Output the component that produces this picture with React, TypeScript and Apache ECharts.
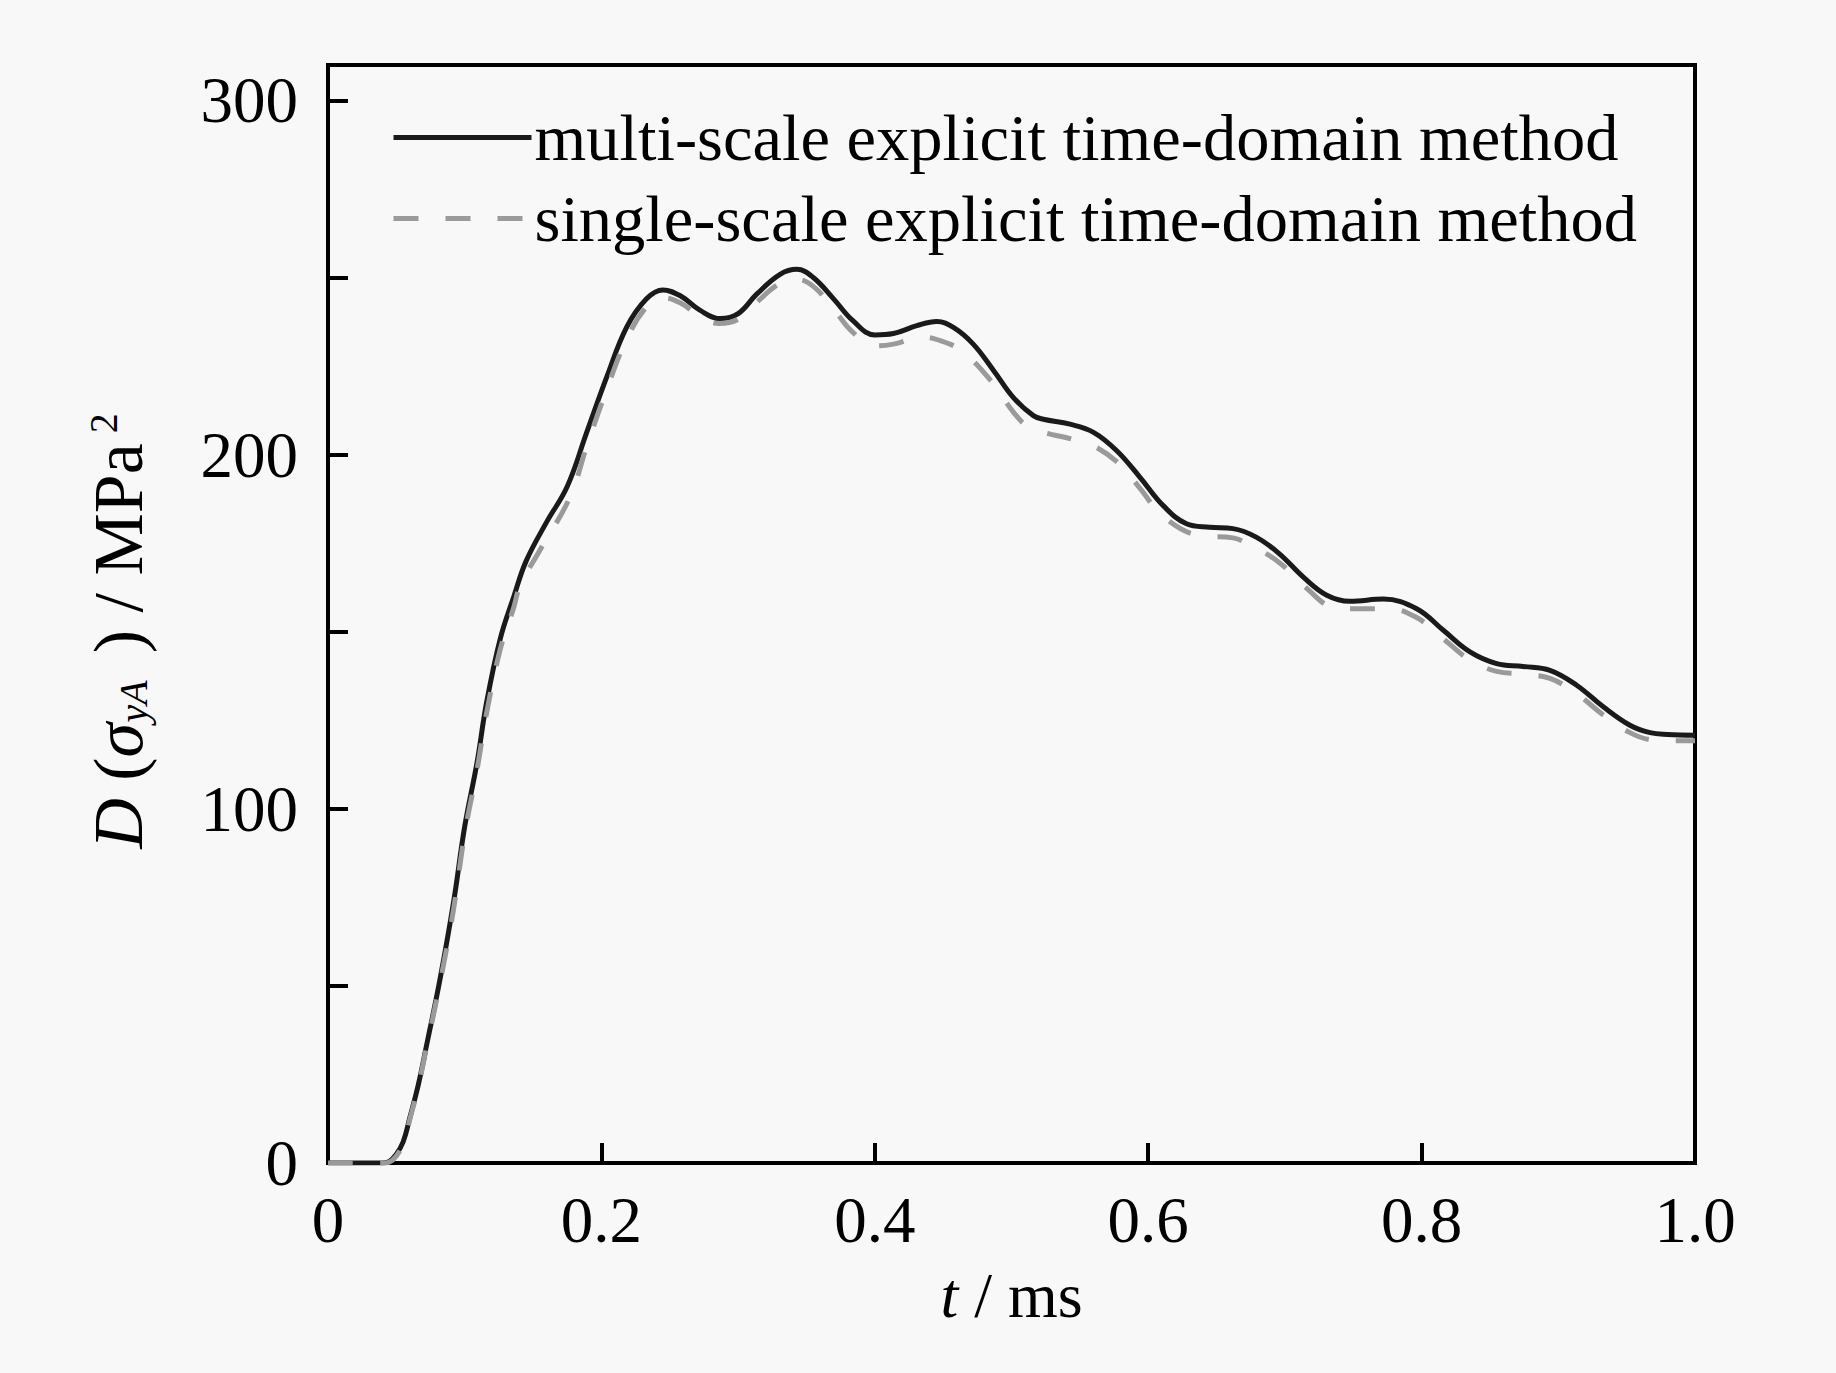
import React, { useEffect, useRef } from "react";
import * as echarts from "echarts";

const FONT = "'Liberation Serif', 'Times New Roman', serif";

const seriesNames = [
  "multi-scale explicit time-domain method",
  "single-scale explicit time-domain method",
];

const multiScale: [number, number][] = [
  [0, 0], [0.04, 0], [0.045, 0.5], [0.05, 2.5], [0.055, 6], [0.06, 13], [0.066, 22],
  [0.072, 33], [0.082, 52], [0.092, 74], [0.1, 95], [0.109, 113], [0.116, 130],
  [0.126, 148], [0.136, 160], [0.145, 170], [0.16, 181], [0.175, 191], [0.189, 206],
  [0.204, 222], [0.2185, 236], [0.233, 244], [0.245, 246.5], [0.258, 244.8],
  [0.272, 240.8], [0.287, 238.4], [0.3, 239.8], [0.3136, 245.3], [0.3307, 250.9], [0.343, 252.3],
  [0.355, 250], [0.37, 243.9], [0.384, 237.8], [0.4, 233.8], [0.4136, 234.2],
  [0.4307, 236.4], [0.4453, 237.6], [0.4575, 235.9], [0.472, 231.2], [0.487, 223.7],
  [0.5014, 216.1], [0.516, 211], [0.5233, 210], [0.5428, 208.6], [0.56, 206.3],
  [0.577, 201.1], [0.594, 193.6], [0.611, 185.6], [0.628, 180.5], [0.645, 179.5],
  [0.662, 179.1], [0.679, 176.7], [0.696, 172], [0.7135, 165.4], [0.7306, 160.3],
  [0.7476, 158.6], [0.772, 159.2], [0.7964, 156.5], [0.8159, 150.4], [0.8354, 144.3],
  [0.8549, 141], [0.8744, 140.2], [0.8939, 139.1], [0.9134, 134.9], [0.9329, 128.8],
  [0.9524, 123.6], [0.9671, 121.5], [0.98, 121], [1.0, 120.8],
];

const singleScale: [number, number][] = [
  [0, 0], [0.04, 0], [0.045, 0.3], [0.05, 2], [0.055, 5.5], [0.06, 12.5], [0.066, 21.5],
  [0.072, 32.5], [0.082, 51], [0.092, 72], [0.1, 93], [0.109, 111], [0.116, 127],
  [0.126, 145], [0.136, 157], [0.1405, 163], [0.155, 173], [0.177, 188], [0.189, 202],
  [0.204, 218.5], [0.2185, 232.6], [0.233, 241.7], [0.245, 244.3], [0.258, 242.8],
  [0.272, 239], [0.286, 237], [0.3, 238.2], [0.3136, 243], [0.33, 248.2], [0.342, 249.5],
  [0.355, 247.5], [0.37, 241], [0.384, 234.5], [0.4, 230.7], [0.4136, 231.2],
  [0.434, 233.1], [0.4453, 232.5], [0.4634, 229.3], [0.487, 219.9], [0.5014, 212],
  [0.5136, 207.7], [0.548, 204], [0.56, 202.5], [0.577, 198], [0.594, 190.5],
  [0.611, 182.5], [0.637, 177.2], [0.662, 176.5], [0.673, 174.8], [0.696, 169.5],
  [0.7135, 163], [0.74, 156.5], [0.776, 156.5], [0.7964, 154], [0.8159, 148],
  [0.8354, 142], [0.8549, 138.8], [0.8744, 138], [0.8939, 136.8], [0.9134, 132.5],
  [0.9329, 126.5], [0.9524, 121.5], [0.9671, 119.5], [0.98, 119.2], [1.0, 119.2],
];

const xTicks = { min: 0, max: 1.0, interval: 0.2 };
const yTicks = { min: 0, max: 310, interval: 50, labelEvery: 100 };

export default function App() {
  const ref = useRef<HTMLDivElement>(null);
  useEffect(() => {
    document.body.style.margin = "0";
    document.body.style.background = "#f8f8f8";
    const chart = echarts.init(ref.current!, null, { renderer: "svg" });
    chart.setOption({
      animation: false,
      backgroundColor: "#f8f8f8",
      grid: {
        left: 328, top: 65, right: 141, bottom: 210,
        show: true, borderColor: "#000", borderWidth: 4, backgroundColor: "transparent",
      },
      legend: {
        orient: "vertical",
        left: 386,
        top: 99,
        itemWidth: 138,
        itemHeight: 2,
        itemGap: 14,
        data: seriesNames,
        itemStyle: { opacity: 0, borderWidth: 0 },
        lineStyle: { width: 5 },
        textStyle: { fontFamily: FONT, fontSize: 66.5, lineHeight: 66, color: "#000", padding: [0, 0, 0, -2] },
      },
      xAxis: {
        type: "value",
        min: xTicks.min, max: xTicks.max, interval: xTicks.interval,
        axisLine: { show: true, lineStyle: { color: "#000", width: 4 } },
        axisTick: { show: true, inside: true, length: 20, lineStyle: { color: "#000", width: 4 } },
        splitLine: { show: false },
        axisLabel: {
          fontFamily: FONT, fontSize: 65, color: "#000", margin: 24,
          formatter: (v: number) => (v === 0 ? "0" : v.toFixed(1)),
        },
        name: "{i|t}{n| / ms}",
        nameLocation: "middle",
        nameGap: 100,
        nameTextStyle: {
          fontFamily: FONT, fontSize: 64, color: "#000",
          rich: {
            i: { fontFamily: FONT, fontSize: 64, fontStyle: "italic", color: "#000" },
            n: { fontFamily: FONT, fontSize: 64, color: "#000" },
          },
        },
      },
      yAxis: {
        type: "value",
        min: yTicks.min, max: yTicks.max, interval: yTicks.interval,
        axisLine: { show: true, lineStyle: { color: "#000", width: 4 } },
        axisTick: { show: true, inside: true, length: 20, lineStyle: { color: "#000", width: 4 } },
        splitLine: { show: false },
        axisLabel: {
          fontFamily: FONT, fontSize: 65, color: "#000", margin: 30,
          formatter: (v: number) => (v % yTicks.labelEvery === 0 ? String(v) : ""),
        },
        name: "{i|D}{n| (}{i|σ}{sub|yA }{n| ) / MPa}{sup| 2}",
        nameLocation: "middle",
        nameGap: 175,
        nameTextStyle: {
          fontFamily: FONT, fontSize: 70, color: "#000", padding: [0, 34, 0, 0],
          rich: {
            i: { fontFamily: FONT, fontSize: 70, fontStyle: "italic", lineHeight: 70, color: "#000" },
            n: { fontFamily: FONT, fontSize: 70, lineHeight: 70, color: "#000" },
            sub: { fontFamily: FONT, fontSize: 40, fontStyle: "italic", lineHeight: 30, verticalAlign: "bottom", color: "#000" },
            sup: { fontFamily: FONT, fontSize: 40, lineHeight: 16, verticalAlign: "top", color: "#000" },
          },
        },
      },
      series: [
        {
          name: seriesNames[0],
          type: "line",
          data: multiScale,
          symbol: "none",
          smooth: 0.4,
          lineStyle: { color: "#1a1a1a", width: 5 },
          itemStyle: { color: "#1a1a1a" },
        },
        {
          name: seriesNames[1],
          type: "line",
          data: singleScale,
          symbol: "none",
          smooth: 0.4,
          lineStyle: { color: "#9a9a9a", width: 5, type: [25, 27] },
          itemStyle: { color: "#9a9a9a" },
        },
      ],
    });
    return () => chart.dispose();
  }, []);
  return <div ref={ref} style={{ width: 1836, height: 1373 }} />;
}
